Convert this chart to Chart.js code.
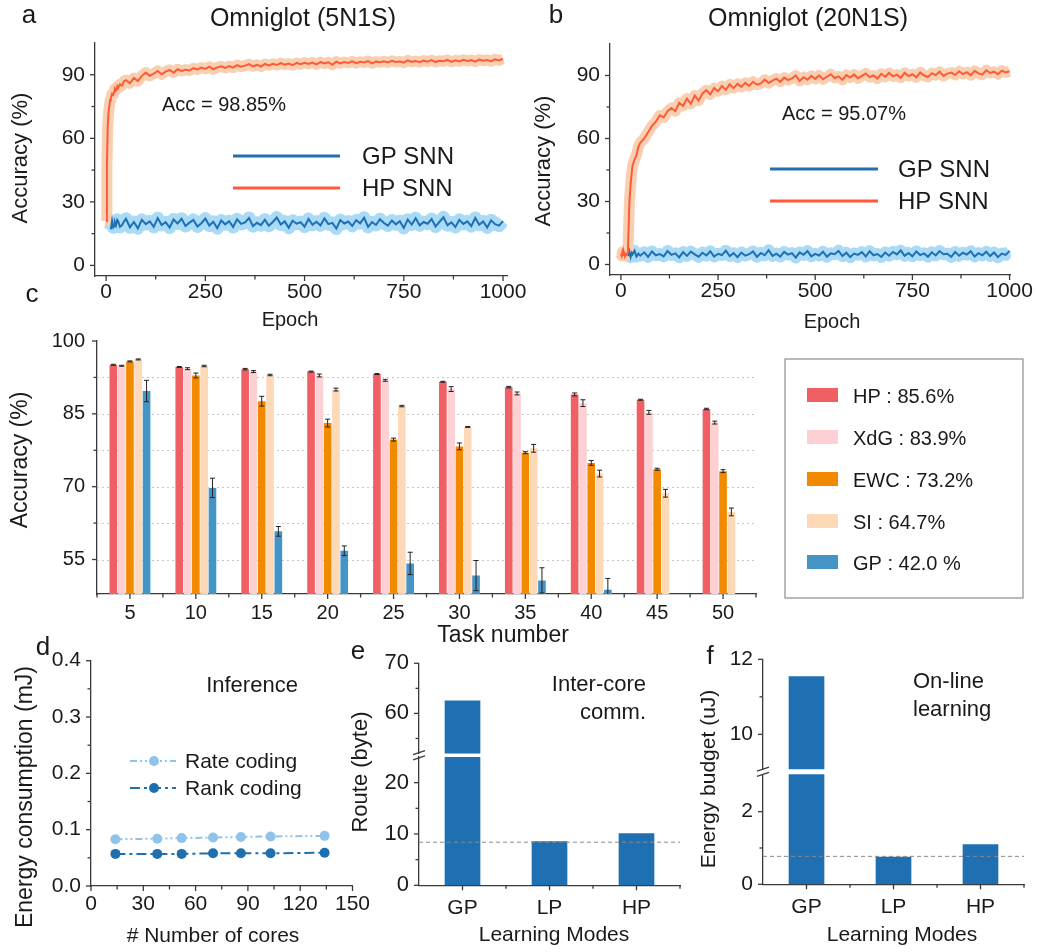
<!DOCTYPE html>
<html>
<head>
<meta charset="utf-8">
<title>HP SNN results</title>
<script src="https://cdn.jsdelivr.net/npm/chart.js@4.4.1/dist/chart.umd.min.js"></script>
<style>
  html, body { margin: 0; padding: 0; background: #fff; }
  #page { position: relative; width: 1037px; height: 952px; overflow: hidden; background: #fff; }
  #page canvas { position: absolute; left: 0; top: 0; }
</style>
</head>
<body>
<div id="page">
  <canvas id="chartA" width="1037" height="952"></canvas>
  <canvas id="chartB" width="1037" height="952"></canvas>
  <canvas id="chartC" width="1037" height="952"></canvas>
  <canvas id="chartD" width="1037" height="952"></canvas>
  <canvas id="chartEUp" width="1037" height="952"></canvas>
  <canvas id="chartELow" width="1037" height="952"></canvas>
  <canvas id="chartFUp" width="1037" height="952"></canvas>
  <canvas id="chartFLow" width="1037" height="952"></canvas>
</div>
<script>
// ---- data ----

// a, b: accuracy per training epoch
const epochs = [0, 2, 4, 6, 8, 10, 12, 15, 18, 20, 22, 25, 28, 30, 35, 40, 45, 50,
  60, 70, 80, 90, 100, 110, 120, 130, 140, 150, 160, 170, 180, 190, 200,
  210, 220, 230, 240, 250, 260, 270, 280, 290, 300, 310, 320, 330, 340, 350, 360, 370, 380, 390, 400,
  410, 420, 430, 440, 450, 460, 470, 480, 490, 500, 510, 520, 530, 540, 550, 560, 570, 580, 590, 600,
  610, 620, 630, 640, 650, 660, 670, 680, 690, 700, 710, 720, 730, 740, 750, 760, 770, 780, 790, 800,
  810, 820, 830, 840, 850, 860, 870, 880, 890, 900, 910, 920, 930, 940, 950, 960, 970, 980, 990, 1000];

const seriesAB = ['GP SNN', 'HP SNN'];

const hp5N1S = [21, 47, 65, 72, 75, 78, 79, 81, 80.5, 82, 83.5, 82.8, 84.5, 83.6, 85.5, 84.8, 87, 87.5,
  86, 88.5, 87, 89.5, 91,
  89.5, 90.5, 91.8, 90.2, 91.5, 92.3, 91, 92.6, 91.8, 92.4,
  92, 93.1, 92.5, 93.4, 92.8, 93.8, 92.6, 93.5, 94, 93.2,
  94.1, 93.4, 94.6, 93.8, 94.3, 95, 94, 94.7, 93.9, 95.1,
  94.4, 95.2, 94.6, 95.5, 94.8, 95.3, 94.5, 95.6, 95, 95.7,
  95.1, 95.8, 94.9, 96, 95.3, 95.9, 94.7, 96.2, 95.4, 96,
  95.6, 96.3, 95.5, 96.1, 95.8, 96.5, 95.4, 96.2, 95.9, 96.4,
  95.8, 96.6, 96, 96.3, 95.7, 96.8, 96.1, 96.5, 95.9, 96.7,
  96.2, 96.9, 96, 96.6, 96.4, 97, 96.1, 96.8, 96.3, 97.1,
  96.5, 96.9, 96.2, 97.2, 96.6, 97, 96.4, 97.3, 96.8, 97.5];

const gp5N1S = [null, null, null, null, null, null, 17, 21, 18, 18.5, 20.5, 19, 21.5, 21, 18.2, 19, 20.7, 22,
  18, 20.5, 17.5, 21.5, 19.5,
  20.8, 18.2, 22.3, 19.1, 20.4, 17.9, 21.7, 19.8, 22, 18.6,
  20.2, 21.5, 18.4, 19.9, 22.1, 18.8, 20.6, 17.6, 21.2, 19.4,
  20.9, 18.1, 21.8, 19.6, 20.3, 22.4, 18.5, 20.1, 19, 21.6,
  18.7, 20.5, 22.6, 19.3, 20.8, 17.8, 21.1, 19.7, 20.4, 18.3,
  21.9, 19.2, 20.6, 18.9, 22.2, 19.5, 20.1, 17.4, 21.4, 19.8,
  20.7, 18.6, 21.3, 19.9, 22.5, 18.2, 20.4, 19.1, 21.8, 20,
  18.8, 21.2, 19.4, 20.9, 17.7, 21.6, 19.3, 22.3, 18.9, 20.5,
  19.7, 21.9, 18.4, 20.6, 22.7, 19, 20.3, 18.1, 21.5, 19.6,
  20.8, 18.5, 22.4, 19.2, 20.7, 17.9, 21.3, 19.5, 18.8, 20.9];

const hp20N1S = [5, 4, 6, 4.5, 5.5, 4, 5, 4.5, 6, 18, 30, 38, 44, 47, 50, 52, 56, 58,
  60, 63, 66, 68, 71,
  70, 73, 74.5, 73, 77, 75.5, 79, 76.5, 80.5, 78,
  81.5, 83, 81, 84, 82.5, 85, 83.2, 85.8, 84, 86,
  84.6, 86.5, 85, 87, 85.6, 86.2, 88, 86.4, 87.6, 88.5,
  87, 89, 87.8, 88.6, 90, 87.4, 89.2, 88, 89.8, 88.4,
  90.1, 88.2, 89.4, 90.6, 88.8, 89.6, 87.9, 90.2, 89, 90.5,
  88.6, 89.8, 91, 89.2, 90, 88.5, 90.8, 89.4, 91.2, 89.6,
  90.4, 88.9, 91.3, 89.7, 90.6, 89.1, 91.5, 90, 89.3, 91.1,
  90.2, 91.8, 89.8, 90.9, 91.4, 90.3, 92, 90.7, 91.6, 90.1,
  92.2, 91, 90.4, 92.5, 91.2, 91.8, 90.6, 92.3, 91.5, 92];

const gp20N1S = [null, null, null, null, null, null, null, null, null, 4, 6, 3.5, 5.5, 4.8, 6.5, 3.8, 5.2, 4.2,
  5.8, 3.6, 6.2, 4.4, 5,
  3.9, 6.4, 4.6, 5.3, 3.4, 5.9, 4.1, 6.1, 4.8, 3.7,
  5.6, 4.3, 6.3, 3.8, 5.1, 4.5, 6.6, 4, 5.4, 3.5,
  5.7, 4.2, 4.9, 6.2, 3.6, 5.5, 4.4, 6.8, 4.1, 5.2,
  3.8, 6, 4.7, 5.4, 3.3, 5.8, 4.6, 6.4, 3.9, 5.1,
  4.3, 6.1, 3.7, 5.3, 4.9, 6.5, 4, 5.6, 3.5, 5.2,
  4.6, 5.9, 3.8, 6.3, 4.4, 5, 3.6, 5.7, 4.2, 6,
  4.8, 6.7, 4.1, 5.5, 3.9, 6.2, 4.5, 5.3, 3.7, 5.8,
  4.3, 6.4, 4.9, 5.1, 3.6, 6, 4.2, 5.6, 4.7, 6.3,
  3.8, 5.4, 4.4, 6.1, 4, 5.7, 3.5, 5.2, 4.6, 6.5];

// c: continual learning accuracy per task number
const taskNumbers = ['5', '10', '15', '20', '25', '30', '35', '40', '45', '50'];
const methods = ['HP : 85.6%', 'XdG : 83.9%', 'EWC : 73.2%', 'SI : 64.7%', 'GP : 42.0 %'];
const accHP  = [95.1, 94.65, 94.2, 93.7, 93.2, 91.6, 90.5, 89.0, 87.9, 86.0];
const errHP  = [0.1, 0.1, 0.15, 0.1, 0.1, 0.1, 0.15, 0.3, 0.1, 0.15];
const accXdG = [94.9, 94.3, 93.7, 92.9, 91.9, 90.1, 89.2, 87.2, 85.3, 83.2];
const errXdG = [0.1, 0.2, 0.2, 0.3, 0.2, 0.5, 0.3, 0.7, 0.4, 0.3];
const accEWC = [95.8, 92.9, 87.6, 83.1, 79.7, 78.3, 77.0, 74.9, 73.6, 73.2];
const errEWC = [0.1, 0.5, 1.0, 0.8, 0.3, 0.7, 0.2, 0.5, 0.2, 0.3];
const accSI  = [96.2, 94.85, 93.0, 90.0, 86.6, 82.3, 77.9, 72.7, 68.65, 64.8];
const errSI  = [0.1, 0.15, 0.15, 0.3, 0.15, 0.1, 0.8, 0.7, 0.8, 0.8];
const accGP  = [89.7, 69.75, 60.8, 56.8, 54.2, 51.7, 50.7, 48.8, null, null];
const errGP  = [2.2, 2.0, 1.0, 1.0, 2.3, 3.1, 2.6, 2.3, 0, 0];

// d: inference energy vs number of cores
const codings = ['Rate coding', 'Rank coding'];
const cores = [14, 38, 52, 70, 86, 103, 134];
const rateEnergy = [0.083, 0.084, 0.085, 0.086, 0.087, 0.088, 0.089];
const rankEnergy = [0.057, 0.057, 0.057, 0.058, 0.058, 0.058, 0.059];

// e, f: learning modes
const modes = ['GP', 'LP', 'HP'];
const routeBytes = [62.6, 8.6, 10.15];
const routeRef = 8.4;
const energyBudget = [11.55, 0.76, 1.1];
const energyRef = 0.77;

// ---- styling ----
const W = 1037, H = 952;
const INK = '#1a1a1a';
const AXIS = '#3a3a3a';
const HP_LINE = '#ff5a36', HP_BAND = '#f9cfb1';
const GP_LINE = '#1f6fb2', GP_BAND = '#a9dbf7';
const methodColors = ['#ef5f63', '#fdd1d3', '#f28a00', '#fdd9b7', '#4494c5'];
const codingColors = ['#90c3ea', '#1f6fae'];
const codingDash = [[7, 3, 2, 3, 2, 3], [10, 4, 3, 4]];
const BAR = '#1f70b2';

Chart.defaults.font.family = 'Liberation Sans, Arial, Helvetica, sans-serif';
Chart.defaults.color = INK;
Chart.defaults.animation = false;
Chart.defaults.events = [];
Chart.defaults.plugins.legend.display = false;
Chart.defaults.plugins.tooltip.enabled = false;

// all canvases cover the page, so every position here is a page coordinate
function pad(left, top, right, bottom) {
  return { left: left - 70, top: top, right: W - right, bottom: H - bottom - 40 };
}

function yLin(min, max, major, size, padding, fmt) {
  return {
    type: 'linear', position: 'left', min, max,
    afterFit: s => { s.width = 70; },
    afterBuildTicks: s => { s.ticks = major.map(v => ({ value: v })); },
    grid: { display: false, drawTicks: false },
    border: { color: AXIS, width: 1.3 },
    ticks: { font: { size }, color: INK, padding, autoSkip: false, callback: fmt || (v => String(v)) }
  };
}

function xLin(min, max, major, size, padding) {
  return {
    type: 'linear', position: 'bottom', min, max,
    afterFit: s => { s.height = 40; },
    afterBuildTicks: s => { s.ticks = major.map(v => ({ value: v })); },
    grid: { display: false, drawTicks: false },
    border: { color: AXIS, width: 1.3 },
    ticks: { font: { size }, color: INK, padding, autoSkip: false, maxRotation: 0, callback: v => String(v) }
  };
}

function xCat(size, padding, show) {
  const ax = {
    type: 'category', offset: true, display: show,
    grid: { display: false, drawTicks: false },
    border: { color: AXIS, width: 1.3 },
    ticks: { font: { size }, color: INK, padding, maxRotation: 0, autoSkip: false }
  };
  if (show) ax.afterFit = s => { s.height = 40; };
  return ax;
}

// ticks, minor ticks, grid, error bars, reference lines, legends and labels
const deco = {
  id: 'deco',
  beforeDatasetsDraw(chart, args, o) {
    if (!o.grid) return;
    const { ctx, chartArea: a } = chart;
    ctx.save();
    ctx.strokeStyle = '#c6c6c6';
    ctx.lineWidth = 1;
    ctx.setLineDash([2, 3]);
    o.grid.forEach(v => {
      const y = Math.round(chart.scales.y.getPixelForValue(v)) + 0.5;
      ctx.beginPath(); ctx.moveTo(a.left, y); ctx.lineTo(a.right, y); ctx.stroke();
    });
    ctx.restore();
  },
  afterDatasetsDraw(chart, args, o) {
    const { ctx, chartArea: a } = chart;
    ctx.save();
    ctx.beginPath(); ctx.rect(a.left, a.top, a.right - a.left, a.bottom - a.top); ctx.clip();
    chart.data.datasets.forEach((ds, i) => {
      if (!ds.errors) return;
      const meta = chart.getDatasetMeta(i);
      ctx.strokeStyle = '#222';
      ctx.lineWidth = 1;
      meta.data.forEach((bar, j) => {
        const v = ds.data[j], e = ds.errors[j];
        if (v == null || !e) return;
        const y1 = chart.scales.y.getPixelForValue(v - e);
        const y2 = chart.scales.y.getPixelForValue(v + e);
        ctx.beginPath();
        ctx.moveTo(bar.x, y1); ctx.lineTo(bar.x, y2);
        ctx.moveTo(bar.x - 2.5, y1); ctx.lineTo(bar.x + 2.5, y1);
        ctx.moveTo(bar.x - 2.5, y2); ctx.lineTo(bar.x + 2.5, y2);
        ctx.stroke();
      });
    });
    if (o.refLine != null) {
      const y = chart.scales.y.getPixelForValue(o.refLine);
      ctx.strokeStyle = '#8a8a8a';
      ctx.lineWidth = 1;
      ctx.setLineDash([4, 3]);
      ctx.beginPath(); ctx.moveTo(a.left, y); ctx.lineTo(a.right, y); ctx.stroke();
    }
    ctx.restore();
  },
  afterDraw(chart, args, o) {
    const { ctx, chartArea: a } = chart;
    ctx.save();
    ctx.strokeStyle = AXIS;
    ctx.lineWidth = 1.3;
    Object.entries(o.ticks || {}).forEach(([id, t]) => {
      const s = chart.scales[id];
      const marks = (t.major || []).map(v => [v, 5]).concat((t.minor || []).map(v => [v, 3.5]));
      marks.forEach(([v, len]) => {
        const p = s.getPixelForValue(v);
        ctx.beginPath();
        if (s.isHorizontal()) { ctx.moveTo(p, a.bottom); ctx.lineTo(p, a.bottom + len); }
        else { ctx.moveTo(a.left, p); ctx.lineTo(a.left - len, p); }
        ctx.stroke();
      });
    });
    if (o.brk != null) {
      [-2.6, 2.6].forEach(k => {
        ctx.beginPath();
        ctx.moveTo(a.left - 6, o.brk + k + 2);
        ctx.lineTo(a.left + 6, o.brk + k - 2);
        ctx.stroke();
      });
    }
    ctx.fillStyle = INK;
    ctx.textBaseline = 'middle';
    (o.texts || []).forEach(t => {
      ctx.save();
      ctx.font = t.s + 'px ' + Chart.defaults.font.family;
      ctx.textAlign = t.al || 'center';
      ctx.translate(t.x, t.y);
      if (t.rot) ctx.rotate(-Math.PI / 2);
      ctx.fillText(t.t, 0, 0);
      ctx.restore();
    });
    const lg = o.lineLegend;
    if (lg) {
      lg.rows.forEach(r => {
        ctx.save();
        ctx.strokeStyle = r.color;
        ctx.lineWidth = lg.w || 3;
        if (r.dash) ctx.setLineDash(r.dash);
        ctx.beginPath(); ctx.moveTo(lg.x1, r.y); ctx.lineTo(lg.x2, r.y); ctx.stroke();
        if (lg.marker) {
          ctx.fillStyle = r.color;
          ctx.beginPath(); ctx.arc(lg.marker, r.y, 5, 0, Math.PI * 2); ctx.fill();
        }
        ctx.fillStyle = INK;
        ctx.font = lg.s + 'px ' + Chart.defaults.font.family;
        ctx.textAlign = 'left';
        ctx.fillText(r.label, lg.tx, r.y + 1);
        ctx.restore();
      });
    }
    const bl = o.boxLegend;
    if (bl) {
      ctx.strokeStyle = '#8c8c8c';
      ctx.lineWidth = 1.2;
      ctx.strokeRect(bl.x, bl.y, bl.w, bl.h);
      ctx.font = bl.s + 'px ' + Chart.defaults.font.family;
      ctx.textAlign = 'left';
      chart.data.datasets.forEach((ds, i) => {
        const y = bl.rows[i];
        ctx.fillStyle = ds.backgroundColor;
        ctx.fillRect(bl.sx, y - 8, 31, 14);
        ctx.fillStyle = INK;
        ctx.fillText(ds.label, bl.tx, y + 1);
      });
    }
    ctx.restore();
  }
};
Chart.register(deco);

const xy = arr => arr.map((v, i) => ({ x: epochs[i], y: v }));

function curveDatasets(gp, hp, gpBand, hpBand) {
  // first dataset is painted last, so the thin lines sit over the wide bands
  return [
    { label: seriesAB[1], data: xy(hp), borderColor: HP_LINE, borderWidth: 2 },
    { label: seriesAB[0], data: xy(gp), borderColor: GP_LINE, borderWidth: 2 },
    { label: seriesAB[1] + ' band', data: xy(hp), borderColor: HP_BAND, borderWidth: hpBand, borderJoinStyle: 'round' },
    { label: seriesAB[0] + ' band', data: xy(gp), borderColor: GP_BAND, borderWidth: gpBand, borderJoinStyle: 'round' }
  ];
}

const lineOpts = { elements: { point: { radius: 0 }, line: { tension: 0 } } };

// ---- a ----
new Chart(document.getElementById('chartA'), {
  type: 'line',
  data: { datasets: curveDatasets(gp5N1S, hp5N1S, 13, 11) },
  options: {
    responsive: false, ...lineOpts,
    layout: { padding: pad(95, 43, 507, 276) },
    scales: {
      x: xLin(-28, 1010, [0, 250, 500, 750, 1000], 21, 4),
      y: yLin(-5, 105, [0, 30, 60, 90], 21, 10)
    },
    plugins: {
      deco: {
        ticks: { x: { major: [0, 250, 500, 750, 1000], minor: [125, 375, 625, 875] },
                 y: { major: [0, 30, 60, 90], minor: [15, 45, 75] } },
        texts: [
          { t: 'a', x: 29, y: 16, s: 26 },
          { t: 'Omniglot (5N1S)', x: 303, y: 19, s: 25 },
          { t: 'Acc = 98.85%', x: 162, y: 105, s: 20, al: 'left' },
          { t: 'Accuracy (%)', x: 21, y: 158, s: 22, rot: true },
          { t: 'Epoch', x: 290, y: 320, s: 20 }
        ],
        lineLegend: { x1: 233, x2: 340, tx: 362, s: 24,
          rows: [{ label: seriesAB[0], color: GP_LINE, y: 156 }, { label: seriesAB[1], color: HP_LINE, y: 188 }] }
      }
    }
  }
});

// ---- b ----
new Chart(document.getElementById('chartB'), {
  type: 'line',
  data: { datasets: curveDatasets(gp20N1S, hp20N1S, 12, 11) },
  options: {
    responsive: false, ...lineOpts,
    layout: { padding: pad(610, 44, 1012, 275) },
    scales: {
      x: xLin(-28, 1003, [0, 250, 500, 750, 1000], 21, 4),
      y: yLin(-5, 105, [0, 30, 60, 90], 21, 10)
    },
    plugins: {
      deco: {
        ticks: { x: { major: [0, 250, 500, 750, 1000], minor: [125, 375, 625, 875] },
                 y: { major: [0, 30, 60, 90], minor: [15, 45, 75] } },
        texts: [
          { t: 'b', x: 556, y: 16, s: 26 },
          { t: 'Omniglot (20N1S)', x: 808, y: 19, s: 25 },
          { t: 'Acc = 95.07%', x: 782, y: 114, s: 20, al: 'left' },
          { t: 'Accuracy (%)', x: 544, y: 161, s: 22, rot: true },
          { t: 'Epoch', x: 832, y: 322, s: 20 }
        ],
        lineLegend: { x1: 770, x2: 878, tx: 898, s: 24,
          rows: [{ label: seriesAB[0], color: GP_LINE, y: 169 }, { label: seriesAB[1], color: HP_LINE, y: 201 }] }
      }
    }
  }
});

// ---- c ----
const accs = [accHP, accXdG, accEWC, accSI, accGP];
const errs = [errHP, errXdG, errEWC, errSI, errGP];
const centres = taskNumbers.map((_, i) => i);
new Chart(document.getElementById('chartC'), {
  type: 'bar',
  data: {
    labels: taskNumbers,
    datasets: methods.map((m, i) => ({
      label: m, data: accs[i], errors: errs[i], backgroundColor: methodColors[i],
      barPercentage: 0.92, categoryPercentage: 0.63, clip: 0
    }))
  },
  options: {
    responsive: false,
    layout: { padding: pad(97, 341, 756, 594) },
    scales: {
      x: xCat(20, 7, true),
      y: yLin(47.9, 100, [55, 70, 85, 100], 20, 12)
    },
    plugins: {
      deco: {
        grid: [55, 62.5, 70, 77.5, 85, 92.5],
        ticks: { x: { major: centres, minor: centres.map(i => i - 0.5).concat([9.5]) },
                 y: { major: [55, 70, 85, 100], minor: [62.5, 77.5, 92.5] } },
        texts: [
          { t: 'c', x: 32, y: 295, s: 26 },
          { t: 'Accuracy (%)', x: 21, y: 460, s: 23, rot: true },
          { t: 'Task number', x: 503, y: 636, s: 23 }
        ],
        boxLegend: { x: 785, y: 359, w: 238, h: 239, sx: 807, tx: 853, s: 20, rows: [396, 438, 480, 522, 563] }
      }
    }
  }
});

// ---- d ----
const coreXY = arr => arr.map((v, i) => ({ x: cores[i], y: v }));
new Chart(document.getElementById('chartD'), {
  type: 'line',
  data: {
    datasets: [rateEnergy, rankEnergy].map((arr, i) => ({
      label: codings[i], data: coreXY(arr), borderColor: codingColors[i], borderWidth: 2,
      borderDash: codingDash[i], pointRadius: 5, pointBackgroundColor: codingColors[i],
      pointBorderWidth: 0, tension: 0
    }))
  },
  options: {
    responsive: false,
    layout: { padding: pad(91, 660.7, 352.5, 886) },
    scales: {
      x: xLin(0, 150, [0, 30, 60, 90, 120, 150], 21, 6),
      y: yLin(0, 0.4, [0, 0.1, 0.2, 0.3, 0.4], 21, 10, v => v.toFixed(1))
    },
    plugins: {
      deco: {
        ticks: { x: { major: [0, 30, 60, 90, 120, 150], minor: [15, 45, 75, 105, 135] },
                 y: { major: [0, 0.1, 0.2, 0.3, 0.4], minor: [0.05, 0.15, 0.25, 0.35] } },
        texts: [
          { t: 'd', x: 43, y: 648, s: 26 },
          { t: 'Inference', x: 252, y: 686, s: 22 },
          { t: 'Energy consumption (mJ)', x: 26, y: 797, s: 23, rot: true },
          { t: '# Number of cores', x: 213, y: 936, s: 21 }
        ],
        lineLegend: { x1: 130, x2: 176, tx: 185, s: 21, w: 2, marker: 154,
          rows: [{ label: codings[0], color: codingColors[0], dash: codingDash[0], y: 761 },
                 { label: codings[1], color: codingColors[1], dash: codingDash[1], y: 788 }] }
      }
    }
  }
});

// ---- e (broken y axis: two stacked charts) ----
function barSet(values) {
  return [{ label: 'value', data: values, backgroundColor: BAR, barPercentage: 0.41, categoryPercentage: 1, clip: 0 }];
}

new Chart(document.getElementById('chartEUp'), {
  type: 'bar',
  data: { labels: modes, datasets: barSet(routeBytes) },
  options: {
    responsive: false,
    layout: { padding: { left: 419 - 70, top: 663.3, right: W - 680, bottom: H - 753.5 } },
    scales: { x: xCat(21, 10, false), y: yLin(52, 70, [60, 70], 22, 10) },
    plugins: { deco: { ticks: { y: { major: [60, 70], minor: [55, 65] } } } }
  }
});

new Chart(document.getElementById('chartELow'), {
  type: 'bar',
  data: { labels: modes, datasets: barSet(routeBytes) },
  options: {
    responsive: false,
    layout: { padding: pad(419, 757, 680, 885.3) },
    scales: { x: xCat(21, 10, true), y: yLin(0, 25, [0, 10, 20], 22, 10) },
    plugins: {
      deco: {
        refLine: routeRef,
        brk: 755.3,
        ticks: { x: { major: [0, 1, 2], minor: [0.5, 1.5, 2.5] }, y: { major: [0, 10, 20], minor: [5, 15] } },
        texts: [
          { t: 'e', x: 358, y: 652, s: 26 },
          { t: 'Inter-core', x: 646, y: 685, s: 22, al: 'right' },
          { t: 'comm.', x: 646, y: 713, s: 22, al: 'right' },
          { t: 'Route (byte)', x: 361, y: 772, s: 22, rot: true },
          { t: 'Learning Modes', x: 554, y: 935, s: 21 }
        ]
      }
    }
  }
});

// ---- f (broken y axis) ----
new Chart(document.getElementById('chartFUp'), {
  type: 'bar',
  data: { labels: modes, datasets: barSet(energyBudget) },
  options: {
    responsive: false,
    layout: { padding: { left: 763 - 70, top: 659.3, right: W - 1024, bottom: H - 769.3 } },
    scales: { x: xCat(21, 10, false), y: yLin(9.07, 12, [10, 12], 21, 10) },
    plugins: { deco: { ticks: { y: { major: [10, 12], minor: [11] } } } }
  }
});

new Chart(document.getElementById('chartFLow'), {
  type: 'bar',
  data: { labels: modes, datasets: barSet(energyBudget) },
  options: {
    responsive: false,
    layout: { padding: pad(763, 774.3, 1024, 884.3) },
    scales: { x: xCat(21, 10, true), y: yLin(0, 3.03, [0, 2], 21, 10) },
    plugins: {
      deco: {
        refLine: energyRef,
        brk: 771.8,
        ticks: { x: { major: [0, 1, 2], minor: [0.5, 1.5, 2.5] }, y: { major: [0, 2], minor: [1] } },
        texts: [
          { t: 'f', x: 710, y: 657, s: 26 },
          { t: 'On-line', x: 913, y: 682, s: 22, al: 'left' },
          { t: 'learning', x: 913, y: 710, s: 22, al: 'left' },
          { t: 'Energy budget (uJ)', x: 709, y: 779, s: 21, rot: true },
          { t: 'Learning Modes', x: 902, y: 935, s: 21 }
        ]
      }
    }
  }
});
</script>
</body>
</html>
